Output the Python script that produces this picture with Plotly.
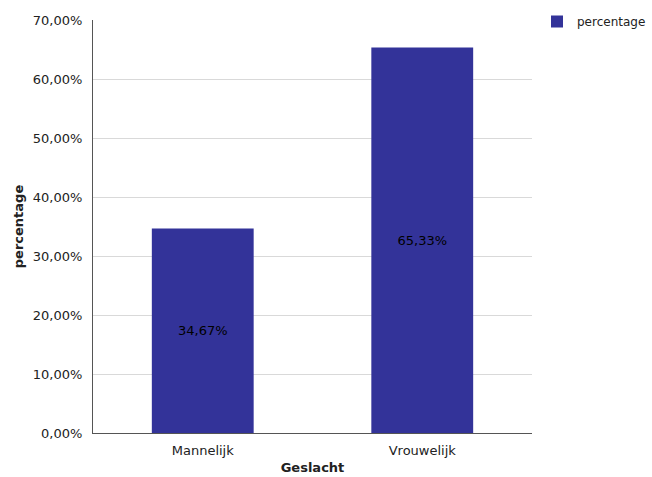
import plotly.graph_objects as go

categories = ["Mannelijk", "Vrouwelijk"]
values = [34.67, 65.33]
labels = ["34,67%", "65,33%"]
y_ticks = [0, 10, 20, 30, 40, 50, 60, 70]
y_tick_labels = ["0,00%", "10,00%", "20,00%", "30,00%", "40,00%", "50,00%", "60,00%", "70,00%"]

font = "Verdana, DejaVu Sans, sans-serif"

fig = go.Figure()
fig.add_trace(go.Bar(
    x=categories, y=values, name="percentage",
    marker=dict(color="#333399", line=dict(width=0)),
    text=labels, textposition="inside", insidetextanchor="middle",
    textfont=dict(color="#000000", size=13, family=font),
    hoverinfo="skip",
))

fig.update_layout(
    width=652, height=477,
    margin=dict(l=93, r=120, t=20, b=44, autoexpand=False),
    paper_bgcolor="white", plot_bgcolor="white",
    font=dict(family=font, size=13, color="#222222"),
    bargap=0.536,
    showlegend=True,
    legend=dict(xref="container", yref="container", x=537/652, y=1 - 7/477,
                xanchor="left", yanchor="top",
                font=dict(size=12, family=font, color="#222222"),
                itemwidth=30, tracegroupgap=0),
    xaxis=dict(
        showline=True, linecolor="#555555", linewidth=1,
        showgrid=False, ticks="", tickfont=dict(size=13),
        ticklabelstandoff=5, automargin=False,
        title=dict(text="<b>Geslacht</b>", font=dict(size=13), standoff=6),
    ),
    yaxis=dict(
        range=[0, 70], tickvals=y_ticks, ticktext=y_tick_labels,
        showline=True, linecolor="#555555", linewidth=1,
        showgrid=True, gridcolor="#d9d9d9", gridwidth=1,
        ticks="", ticklen=0, tickfont=dict(size=13),
        ticklabelstandoff=7, automargin=False,
        zeroline=False,
        title=dict(text="<b>percentage</b>", font=dict(size=13), standoff=6),
    ),
)

fig.write_html("out.html",
               config={"displayModeBar": False, "staticPlot": True},
               post_script="document.body.style.margin='0';document.body.style.padding='0';document.body.style.overflow='hidden';")
